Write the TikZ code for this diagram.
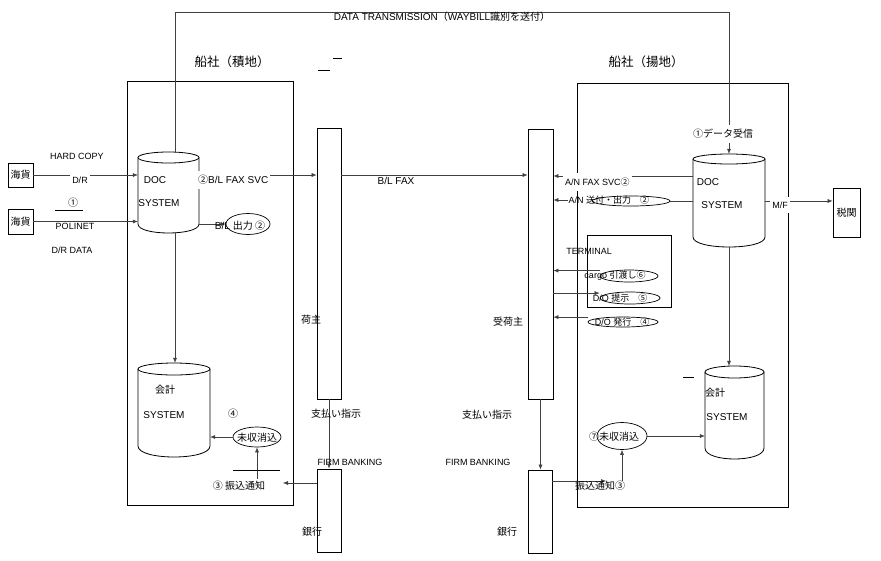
\documentclass[tikz,border=0pt]{standalone}
\usepackage{fontspec}
\setmainfont{Liberation Sans}
\newfontfamily\jpf{Noto Sans CJK JP}
\usetikzlibrary{arrows.meta,fit,shapes.geometric}
\newcommand\J[1]{{\jpf #1}}
% x1 x2 ytop ybot rytop rybot
\newcommand\drawcyl[6]{%
  \pgfmathsetmacro\cylcx{(#1+#2)/2}%
  \pgfmathsetmacro\cylrx{(#2-#1)/2}%
  \pgfmathsetmacro\cylcy{#3+#5}%
  \pgfmathsetmacro\cylby{#4-#6}%
  \pgfmathsetmacro\cylct{#4+#6/3}%
  \draw[cylline, fill=white] (#1,\cylcy) -- (#1,\cylby) .. controls (#1,\cylct) and (#2,\cylct) .. (#2,\cylby) -- (#2,\cylcy);
  \draw[cylline, fill=white] (\cylcx,\cylcy) ellipse [x radius=\cylrx pt, y radius=#5pt];
}
\begin{document}
\begin{tikzpicture}[x=1pt,y=-1pt,
  conn/.style={draw=black!75, line width=0.5pt},
  arr/.style={conn, -{Latex[length=5pt,width=4pt]}},
  frame/.style={draw, line width=0.8pt, inner sep=0pt},
  tbox/.style={draw, line width=0.8pt, inner sep=0pt},
  cylline/.style={line width=0.8pt},
  oval/.style={ellipse, draw, line width=0.7pt, inner sep=0pt},
  lab/.style={inner sep=0.5pt, font=\fontsize{9}{10}\selectfont},
  blab/.style={inner sep=0.5pt, font=\fontsize{10}{11}\selectfont},
  jlab/.style={inner sep=0.5pt, font=\fontsize{10}{11}\selectfont\jpf},
  ttl/.style={inner sep=0.5pt, font=\fontsize{12.5}{14}\selectfont\jpf},
  mask/.style={fill=white, inner xsep=2pt, inner ysep=4.5pt},
  stray/.style={line width=1pt}]
\path[use as bounding box, fill=white] (0,0) rectangle (881,560);

% frames and boxes
\node[frame, fit={(127,81)(293,505)}] (shipL) {};
\node[frame, fit={(577,83)(788,507)}] (shipR) {};
\node[tbox, fit={(317,128)(341,399)}] (shipper) {};
\node[tbox, fit={(317,469)(341,552)}] (bank1) {};
\node[tbox, fit={(528,129)(553,399)}] (consignee) {};
\node[tbox, fit={(528,470)(552,553)}] (bank2) {};
\node[tbox, fit={(8,163)(33,187)}] (kaika1) {};
\node[tbox, fit={(8,209)(33,234)}] (kaika2) {};
\node[tbox, fit={(833,188)(860,237)}] (zeikan) {};
\node[tbox, line width=0.7pt, fit={(587,235)(671,307)}] (terminal) {};

% cylinders
\node[inner sep=0pt, fit={(138,152)(199,233)}] (doc1) {};
\drawcyl{138}{199}{152}{233}{5.5}{9}
\node[inner sep=0pt, fit={(138,363)(210,457)}] (kai1) {};
\drawcyl{138}{210}{363}{457}{6}{11}
\node[inner sep=0pt, fit={(693,154)(765,247)}] (doc2) {};
\drawcyl{693}{765}{154}{247}{5}{10}
\node[inner sep=0pt, fit={(705,366)(764,459)}] (kai2) {};
\drawcyl{705}{764}{366}{459}{6}{11}

% data transmission loop
\coordinate (tl) at (175,12);
\coordinate (tr) at (729,12);
\draw[conn] (doc1.north -| tl) -- (tl) -- (tr);
\draw[arr] (tr) -- (doc2.north);
\draw[arr] (doc1.south -| tl) -- (kai1.north -| tl);
\draw[arr] (doc2.south) -- (kai2.north -| doc2.south);

% left inputs
\draw[arr] (kaika1.east) -- (kaika1.east -| doc1.west);
\draw[arr] (kaika2.east) -- (kaika2.east -| doc1.west);
\coordinate (yhc) at (0,175);
\draw[arr] (doc1.east |- yhc) -- (shipper.west |- yhc);
\draw[arr] (shipper.east |- yhc) -- (consignee.west |- yhc);
\node[oval, fill=white, minimum width=44pt, minimum height=21pt] (o1) at (248,224) {};
\draw[arr] (doc1.east |- o1.west) -- (o1.west);

% shipper -> bank
\draw[arr] (shipper.south) -- (bank1.north);
\draw[arr] (consignee.south) -- (bank2.north -| consignee.south);

% right side arrows
\coordinate (yan) at (0,176);
\draw[arr] (doc2.west |- yan) -- (consignee.east |- yan);
\node[oval, fill=white, minimum width=78pt, minimum height=10pt] (o2) at (631,201) {};
\node[lab, anchor=west] (an2) at (568,200) {A/N \J{送付・出力　②}};
\draw[conn] (doc2.west |- o2.east) -- (o2.east);
\draw[arr] (an2.west) -- (an2.west -| consignee.east);

\node[oval, minimum width=58pt, minimum height=12pt] (o6) at (629,276) {};
\node[lab] (c6) at (615,276) {cargo \J{引渡し⑥}};
\draw[arr] (o6.west |- c6.north) -- (c6.north -| consignee.east);
\node[oval, minimum width=60pt, minimum height=12pt] (o5) at (630,298) {};
\node[lab] (d5) at (620,298) {D/O \J{提示　⑤}};
\draw[arr] (d5.north -| consignee.east) -- (o5.west |- d5.north);
\node[oval, minimum width=70pt, minimum height=10pt] (o4) at (623,322) {};
\node[lab] (d4) at (622,322) {D/O \J{発行　④}};
\draw[arr] (o4.west |- d4.north) -- (d4.north -| consignee.east);

\coordinate (ymf) at (0,201);
\draw[arr] (doc2.east |- ymf) -- (zeikan.west |- ymf);

% bottom left
\node[oval, fill=white, minimum width=48pt, minimum height=20pt] (o7) at (257,437) {};
\draw[arr] (o7.west) -- (o7.west -| kai1.east);
\coordinate (fl) at (257,479);
\draw[arr] (fl) -- (o7.south);
\coordinate (fle) at (283,483);
\draw[arr] (bank1.west |- fle) -- (fle);

% bottom right
\node[oval, fill=white, minimum width=50pt, minimum height=27pt] (o8) at (622,436) {};
\draw[arr] (o8.east) -- (o8.east -| kai2.west);
\coordinate (fr) at (622,481);
\draw[arr] (fr) -- (o8.south);
\coordinate (fre) at (606,481);
\draw[arr] (bank2.east |- fre) -- (fre);

% stray marks
\draw[stray] (55,210) -- (83,210);
\draw[stray] (233,470) -- (280,470);
\draw[stray] (318,70) -- (330,70);
\draw[stray] (333,58) -- (342,58);
\draw[stray] (683,377) -- (694,377);

% labels
\node[blab] (dt) at (442,17) {DATA TRANSMISSION\J{（}WAYBILL\J{識別を送付）}};
\node[ttl] (title1) at (232,62) {船社（積地）};
\node[ttl] (title2) at (646,62) {船社（揚地）};

\node[jlab] (k1t) at (kaika1) {海貨};
\node[jlab] (k2t) at (kaika2) {海貨};
\node[lab] (hc) at (77,156) {HARD COPY};
\node[lab, mask] (dr) at (80,180) {D/R};
\node[jlab] (n1) at (73,203) {①};
\node[lab] (pol) at (75,226) {POLINET};
\node[lab] (drd) at (72,250) {D/R DATA};

\node[blab] (doct1) at (155,180) {DOC};
\node[blab] (syst1) at (159,203) {SYSTEM};
\node[blab, mask, anchor=west] (blfs) at (196,180) {\J{②}B/L FAX SVC};
\node[blab] (blo) at (240,226) {B/L \J{出力 ②}};
\node[blab] (blfax) at (396,181) {B/L FAX};

\node[jlab] (kk1) at (165,390) {会計};
\node[blab] (syst2) at (164,415) {SYSTEM};
\node[jlab] (n4) at (233,414) {④};
\node[jlab] (mk1) at (257,438) {未収消込};
\node[jlab] (fu1) at (239,486) {③ 振込通知};

\node[jlab] (ni1) at (311,320) {荷主};
\node[jlab] (sh1) at (336,414) {支払い指示};
\node[lab] (fb1) at (350,462) {FIRM BANKING};
\node[jlab] (gk1) at (312,532) {銀行};

\node[jlab] (ni2) at (508,322) {受荷主};
\node[jlab] (sh2) at (487,415) {支払い指示};
\node[lab] (fb2) at (478,462) {FIRM BANKING};
\node[jlab] (gk2) at (507,532) {銀行};

\node[lab, mask, anchor=west] (anf) at (563,182) {A/N FAX SVC\J{②}};
\node[lab] (term) at (589,251) {TERMINAL};
\node[jlab, mask] (rcv) at (723,134) {①データ受信};
\node[blab] (doct2) at (708,182) {DOC};
\node[blab] (syst3) at (722,205) {SYSTEM};
\node[lab, mask] (mf) at (780,205) {M/F};
\node[jlab] (zk) at (zeikan) {税関};
\node[jlab] (kk2) at (715,393) {会計};
\node[blab] (syst4) at (727,417) {SYSTEM};
\node[jlab] (mk2) at (614,437) {⑦未収消込};
\node[jlab] (fu2) at (600,486) {振込通知③};
\end{tikzpicture}
\end{document}
